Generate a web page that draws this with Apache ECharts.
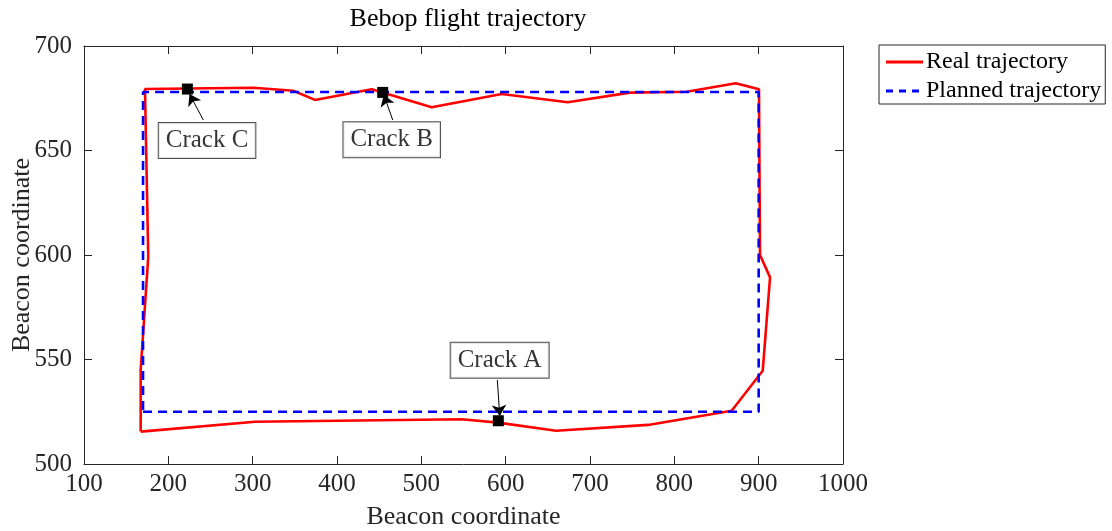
<!DOCTYPE html>
<html lang="en">
<head>
    <meta charset="UTF-8">
    <title>Bebop flight trajectory</title>
    <script src="https://cdn.jsdelivr.net/npm/echarts@6.0.0/dist/echarts.min.js"></script>
    <style>
        html, body { margin: 0; padding: 0; background: #fff; }
        #chart { width: 1112px; height: 531px; }
    </style>
</head>
<body>
    <div id="chart"></div>
    <script>
        // measured trajectory (beacon coordinates)
        const realX = [167.2, 302.8, 547.9, 591, 659.7, 768.8, 868, 904.8, 913.5, 901.6, 900.4, 872.8, 814.7, 747.4, 673.6, 595.3, 512.3, 441.2, 373.9, 348.2, 300.8, 172.3, 176.2, 167.2, 167.2];
        const realY = [515.5, 520.2, 521.4, 519.8, 515.9, 518.7, 525.5, 544.6, 589.3, 600, 679.3, 682.2, 678.1, 677.7, 673.1, 677, 670.7, 679.3, 674.2, 678.6, 680, 679.4, 599.2, 545, 515.5];

        // planned rectangle
        const plannedX = [170, 900, 900, 170, 170];
        const plannedY = [525, 525, 678, 678, 525];

        // crack positions
        const crackNames = ['Crack A', 'Crack B', 'Crack C'];
        const crackX = [591.3, 454.2, 222.6];
        const crackY = [520.7, 677.8, 679.4];

        // annotation boxes and arrow tails
        const labelX = [592.9, 464.9, 245.9];
        const labelY = [549.6, 655.2, 654.8];
        const arrowFromX = [590.1, 466.1, 241.5];
        const arrowFromY = [540.2, 664.6, 664.6];
        const arrowToX = [593, 455.5, 225.1];
        const arrowToY = [523, 676.6, 677];

        const font = 'Liberation Serif';
        const ink = '#262626';

        const zip = (xs, ys) => xs.map((x, i) => [x, ys[i]]);

        const chart = echarts.init(document.getElementById('chart'));

        const axisCommon = {
            axisLine: { show: true, lineStyle: { color: ink, width: 1 } },
            axisTick: { show: true, inside: true, length: 8, lineStyle: { color: ink } },
            splitLine: { show: false }
        };

        // legend icons: a solid stroke and a dashed one
        const solidIcon = 'path://M0,0H37V3H0Z';
        const dashedIcon = 'path://M0,0H7V3H0Z M13,0H20V3H13Z M26,0H33V3H26Z M37,0H37V3H37Z';

        const option = {
            backgroundColor: '#fff',
            animation: false,
            title: {
                text: 'Bebop flight trajectory',
                left: 463,
                top: 1,
                textAlign: 'center',
                textStyle: { fontFamily: font, fontSize: 26, fontWeight: 'normal', color: '#000' }
            },
            legend: {
                orient: 'vertical',
                left: 879,
                top: 45,
                padding: [5, 4, 1, 7],
                itemGap: 5,
                itemWidth: 37,
                itemHeight: 3,
                borderColor: ink,
                borderWidth: 1,
                data: [
                    { name: 'Real trajectory', icon: solidIcon },
                    { name: 'Planned trajectory', icon: dashedIcon }
                ],
                textStyle: { fontFamily: font, fontSize: 24, color: '#000', padding: [0, 0, 0, -2] }
            },
            grid: { left: 84, right: 269, top: 46, bottom: 67, containLabel: false, outerBoundsMode: 'none' },
            xAxis: [
                Object.assign({
                    type: 'value', min: 100, max: 1000, interval: 100,
                    name: 'Beacon coordinate', nameLocation: 'middle', nameGap: 40, nameMoveOverlap: false,
                    nameTextStyle: { fontFamily: font, fontSize: 26, color: ink },
                    axisLabel: { fontFamily: font, fontSize: 25, color: ink, margin: 8, formatter: v => String(v) }
                }, axisCommon),
                Object.assign({
                    type: 'value', min: 100, max: 1000, interval: 100, position: 'top',
                    axisLabel: { show: false }
                }, axisCommon)
            ],
            yAxis: [
                Object.assign({
                    type: 'value', min: 500, max: 700, interval: 50,
                    name: 'Beacon coordinate', nameLocation: 'middle', nameGap: 49, nameMoveOverlap: false,
                    nameTextStyle: { fontFamily: font, fontSize: 26, color: ink },
                    axisLabel: { fontFamily: font, fontSize: 25, color: ink, margin: 12, formatter: v => String(v) }
                }, axisCommon),
                Object.assign({
                    type: 'value', min: 500, max: 700, interval: 50, position: 'right',
                    axisLabel: { show: false }
                }, axisCommon)
            ],
            series: [
                {
                    name: 'Real trajectory',
                    type: 'line',
                    data: zip(realX, realY),
                    showSymbol: false,
                    symbol: 'none',
                    lineStyle: { color: '#ff0000', width: 2.6 },
                    itemStyle: { color: '#ff0000' },
                    z: 2
                },
                {
                    name: 'Planned trajectory',
                    type: 'line',
                    data: zip(plannedX, plannedY),
                    showSymbol: false,
                    symbol: 'none',
                    lineStyle: { color: '#0000ff', width: 2.6, type: [9, 6] },
                    itemStyle: { color: '#0000ff' },
                    z: 3
                },
                {
                    // crack markers
                    type: 'scatter',
                    data: zip(crackX, crackY),
                    symbol: 'rect',
                    symbolSize: 11,
                    itemStyle: { color: '#000', opacity: 1 },
                    z: 5
                },
                {
                    // arrows from boxes to cracks
                    type: 'lines',
                    coordinateSystem: 'cartesian2d',
                    symbol: ['none', 'arrow'],
                    symbolSize: 11,
                    lineStyle: { color: '#000', width: 1, opacity: 1 },
                    data: arrowFromX.map((x, i) => ({
                        coords: [[x, arrowFromY[i]], [arrowToX[i], arrowToY[i]]]
                    })),
                    z: 6
                },
                {
                    // text boxes
                    type: 'scatter',
                    symbolSize: 0,
                    data: labelX.map((x, i) => ({ value: [x, labelY[i]], name: crackNames[i] })),
                    label: {
                        show: true,
                        position: 'inside',
                        formatter: p => p.name,
                        fontFamily: font,
                        fontSize: 25,
                        color: '#000',
                        backgroundColor: '#fff',
                        borderColor: ink,
                        borderWidth: 1,
                        padding: [6, 7, 4, 7]
                    },
                    z: 7
                }
            ]
        };

        chart.setOption(option);
    </script>
</body>
</html>
